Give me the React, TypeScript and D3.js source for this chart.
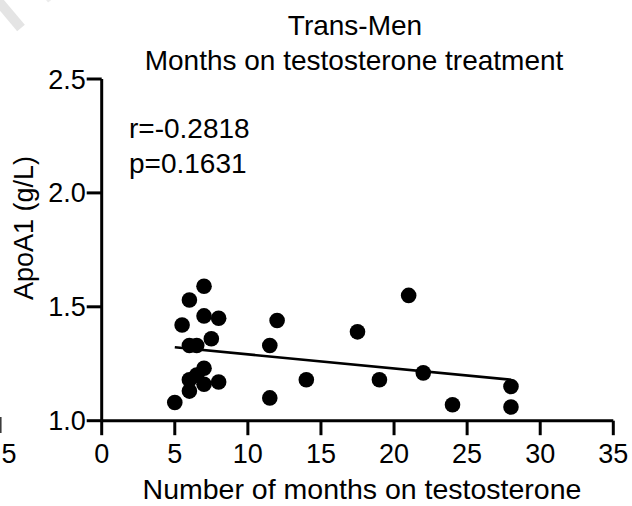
import React from "react";
import * as d3 from "d3";

const months = [5, 5.5, 6, 6, 6.5, 6, 6, 6.5, 7, 7, 7, 7, 7.5, 8, 8, 11.5, 11.5, 12, 14, 17.5, 19, 21, 22, 24, 28, 28];
const apoA1 = [1.08, 1.42, 1.53, 1.33, 1.33, 1.18, 1.13, 1.2, 1.59, 1.46, 1.23, 1.16, 1.36, 1.45, 1.17, 1.33, 1.1, 1.44, 1.18, 1.39, 1.18, 1.55, 1.21, 1.07, 1.15, 1.06];
const xTicks = [0, 5, 10, 15, 20, 25, 30, 35];
const yTicks = [1.0, 1.5, 2.0, 2.5];
const titleLines = ["Trans-Men", "Months on testosterone treatment"];
const statsLines = ["r=-0.2818", "p=0.1631"];
const xLabel = "Number of months on testosterone";
const yLabel = "ApoA1 (g/L)";

const W = 632;
const H = 506;
const FONT = "'Liberation Sans', Arial, Helvetica, sans-serif";

export default function App() {
  const x = d3.scaleLinear().domain([0, 35]).range([101.7, 613.3]);
  const y = d3.scaleLinear().domain([1.0, 2.5]).range([420.7, 79]);

  const mx = d3.mean(months) as number;
  const my = d3.mean(apoA1) as number;
  let sxy = 0;
  let sxx = 0;
  months.forEach((m, i) => {
    sxy += (m - mx) * (apoA1[i] - my);
    sxx += (m - mx) * (m - mx);
  });
  const slope = sxy / sxx;
  const intercept = my - slope * mx;
  const [xmin, xmax] = d3.extent(months) as [number, number];
  const linePath = d3.line<number>()
    .x((d) => x(d))
    .y((d) => y(intercept + slope * d))([xmin, xmax]) as string;

  const fmtY = d3.format(".1f");

  return (
    <svg width={W} height={H} style={{ position: "absolute", left: 0, top: 0, background: "#fff" }} fontFamily={FONT}>
      <rect x={0} y={0} width={W} height={H} fill="#fff" />
      {/* watermark fragment & neighbouring panel remnants */}
      <line x1={-6} y1={-4} x2={21} y2={28} stroke="#e4e4e4" strokeWidth={10} />
      <line x1={47} y1={-3} x2={50} y2={1} stroke="#ececec" strokeWidth={5} />
      <line x1={0.8} y1={417} x2={0.8} y2={433} stroke="#333" strokeWidth={1.5} />
      <text x={16.5} y={463} fontSize={27} textAnchor="end" fill="#000">5</text>

      {/* title */}
      <text x={355} y={35} fontSize={28} textAnchor="middle">{titleLines[0]}</text>
      <text x={354} y={70} fontSize={28} textAnchor="middle">{titleLines[1]}</text>

      {/* axes */}
      <line x1={x(0)} y1={y(2.5)} x2={x(0)} y2={y(1.0)} stroke="#000" strokeWidth={3} />
      <line x1={x(0)} y1={y(1.0)} x2={x(35)} y2={y(1.0)} stroke="#000" strokeWidth={3} />
      {yTicks.map((t) => (
        <g key={"y" + t}>
          <line x1={x(0) - 15} x2={x(0)} y1={y(t)} y2={y(t)} stroke="#000" strokeWidth={3} />
          <text x={x(0) - 16} y={y(t) + 9.5} fontSize={27} textAnchor="end">{fmtY(t)}</text>
        </g>
      ))}
      {xTicks.map((t) => (
        <g key={"x" + t}>
          <line x1={x(t)} x2={x(t)} y1={y(1.0)} y2={y(1.0) + 14.5} stroke="#000" strokeWidth={3} />
          <text x={x(t)} y={463.3} fontSize={27} textAnchor="middle">{t}</text>
        </g>
      ))}

      {/* axis labels */}
      <text x={362} y={499} fontSize={28.5} textAnchor="middle">{xLabel}</text>
      <text transform={`translate(33,228) rotate(-90)`} fontSize={27} textAnchor="middle">{yLabel}</text>

      {/* stats */}
      <text x={129} y={137.7} fontSize={28}>{statsLines[0]}</text>
      <text x={129} y={173.3} fontSize={28}>{statsLines[1]}</text>

      {/* points */}
      {months.map((m, i) => (
        <circle key={i} cx={x(m)} cy={y(apoA1[i])} r={7.8} fill="#000" />
      ))}

      {/* regression line */}
      <path d={linePath} stroke="#000" strokeWidth={2.6} fill="none" />
    </svg>
  );
}
